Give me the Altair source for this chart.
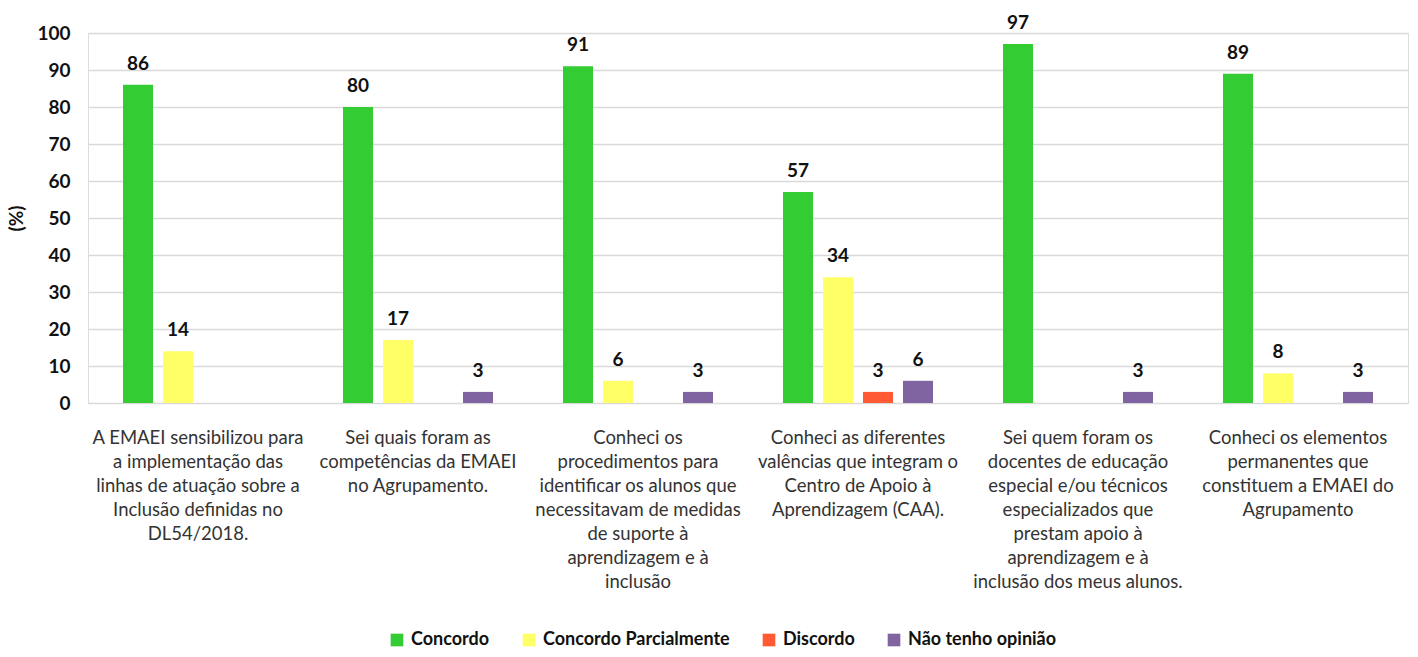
import altair as alt
import pandas as pd

categories = [
    "A EMAEI sensibilizou para|a implementação das|linhas de atuação sobre a|Inclusão definidas no|DL54/2018.",
    "Sei quais foram as|competências da EMAEI|no Agrupamento.",
    "Conheci os|procedimentos para|identificar os alunos que|necessitavam de medidas|de suporte à|aprendizagem e à|inclusão",
    "Conheci as diferentes|valências que integram o|Centro de Apoio à|Aprendizagem (CAA).",
    "Sei quem foram os|docentes de educação|especial e/ou técnicos|especializados que|prestam apoio à|aprendizagem e à|inclusão dos meus alunos.",
    "Conheci os elementos|permanentes que|constituem a EMAEI do|Agrupamento",
]
series = ["Concordo", "Concordo Parcialmente", "Discordo", "Não tenho opinião"]
colors = ["#33CC33", "#FFFF66", "#FF5A33", "#8064A2"]

concordo = [86, 80, 91, 57, 97, 89]
parcialmente = [14, 17, 6, 34, None, 8]
discordo = [None, None, None, 3, None, None]
sem_opiniao = [None, 3, 3, 6, 3, 3]
y_ticks = [0, 10, 20, 30, 40, 50, 60, 70, 80, 90, 100]

rows = []
for s, vals in zip(series, [concordo, parcialmente, discordo, sem_opiniao]):
    for c, v in zip(categories, vals):
        if v is not None:
            rows.append({"cat": c, "serie": s, "valor": v})
df = pd.DataFrame(rows)

FONT = "Lato"

x = alt.X("cat:N", sort=categories, title=None,
          scale=alt.Scale(paddingInner=0, paddingOuter=0),
          axis=alt.Axis(labelAngle=0, labelExpr="split(datum.label, '|')",
                        labelFont=FONT, labelFontSize=18.5, labelColor="#333333",
                        labelLineHeight=24, labelPadding=34, labelBaseline="middle",
                        ticks=False, domain=True, domainColor="#D9D9D9",
                        labelLimit=400))
xo = alt.XOffset("serie:N", sort=series,
                 scale=alt.Scale(domain=series, paddingInner=0.25, paddingOuter=0.875))
y = alt.Y("valor:Q", title="(%)",
          scale=alt.Scale(domain=[0, 100], nice=False),
          axis=alt.Axis(values=y_ticks, tickCount=12, labelOverlap=False, labelFont=FONT,
                        labelFontSize=19, labelFontWeight="bold", labelColor="#111111",
                        labelPadding=18, ticks=False, domain=False,
                        gridColor="#D9D9D9", gridWidth=1.5,
                        titleFont=FONT, titleFontSize=19, titleFontWeight="bold",
                        titleColor="#111111", titlePadding=10))

bars = alt.Chart(df).mark_bar().encode(
    x=x, xOffset=xo, y=y,
    color=alt.Color("serie:N", sort=series,
                    scale=alt.Scale(domain=series, range=colors),
                    legend=alt.Legend(title=None, orient="none", direction="horizontal",
                                      legendX=300, legendY=598,
                                      symbolType="square", symbolSize=160,
                                      symbolStrokeWidth=0, labelLimit=400,
                                      labelFont=FONT, labelFontSize=18,
                                      labelFontWeight="bold", labelColor="#111111",
                                      columnPadding=30, labelOffset=5)),
)

labels = alt.Chart(df).mark_text(baseline="bottom", dy=-11, font=FONT, fontSize=19,
                                 fontWeight="bold", color="#111111").encode(
    x=x, xOffset=xo, y=y, text="valor:Q"
)

chart = (bars + labels).properties(
    width=1320, height=370,
    autosize=alt.AutoSizeParams(type="none"),
    padding={"left": 80, "top": 25, "right": 2, "bottom": 246},
).configure_view(stroke=None).configure(background="white")

chart.save("out.html", embed_options={"renderer": "svg", "actions": False})
